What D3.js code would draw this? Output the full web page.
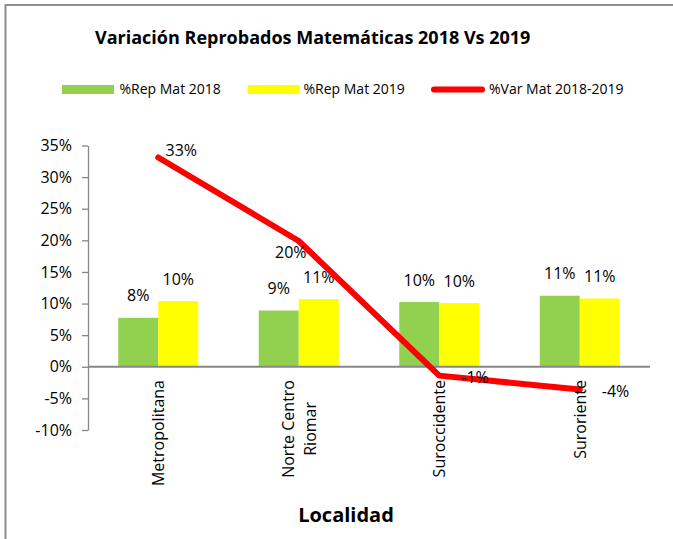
<!DOCTYPE html>
<html>
<head>
<meta charset="utf-8">
<script src="https://cdn.jsdelivr.net/npm/d3@7"></script>
<style>
  html, body { margin: 0; padding: 0; background: #fff; }
  svg { display: block; font-family: "Open Sans", sans-serif; }
</style>
</head>
<body>
<svg id="chart" width="673" height="539"></svg>
<script>
// ---- data ----
const categories = ["Metropolitana", "Norte Centro\nRiomar", "Suroccidente", "Suroriente"];
const rep2018 = [0.0775, 0.089, 0.1024, 0.1124];
const rep2019 = [0.104, 0.107, 0.1008, 0.108];
const var1819 = [0.331, 0.199, -0.014, -0.036];
const seriesNames = ["%Rep Mat 2018", "%Rep Mat 2019", "%Var Mat 2018-2019"];
const yTicks = [-0.10, -0.05, 0, 0.05, 0.10, 0.15, 0.20, 0.25, 0.30, 0.35];
const titleText = "Variación Reprobados Matemáticas 2018 Vs 2019";
const xTitle = "Localidad";
// label placement keywords for the line labels
const varLabelPlacement = ["aboveRight", "belowLeft", "right", "right"];

// ---- styles ----
const colors = { g: "#92D050", y: "#FFFF00", r: "#FF0000", axis: "#878787", frame: "#8f8f8f" };
const pct = v => Math.round(v * 100) + "%";

const svg = d3.select("#chart");

// frame
svg.append("rect").attr("x", 5.5).attr("y", 5).attr("width", 800).attr("height", 800)
  .attr("fill", "#fff").attr("stroke", colors.frame).attr("stroke-width", 2);

// scales
const x = d3.scaleBand().domain(categories).range([88, 650]).padding(0);
const y = d3.scaleLinear().domain([-0.10, 0.35]).range([430, 145.5]);
const inner = d3.scaleBand().domain([0, 1]).range([-40, 40]).padding(0);

// title
svg.append("text").attr("x", 95).attr("y", 44.3)
  .attr("font-size", 18).attr("font-weight", "bold").attr("fill", "#000")
  .text(titleText);

// legend
const leg = svg.append("g").attr("font-size", 14).attr("fill", "#000");
const legItems = [
  { sx: 62, tx: 119.5, type: "rect", color: colors.g },
  { sx: 247.5, tx: 303.5, type: "rect", color: colors.y },
  { sx: 431, tx: 489, type: "line", color: colors.r }
];
legItems.forEach((it, i) => {
  if (it.type === "rect") {
    leg.append("rect").attr("x", it.sx).attr("y", 85).attr("width", 52).attr("height", 9).attr("fill", it.color);
  } else {
    leg.append("line").attr("x1", it.sx + 3).attr("x2", it.sx + 51).attr("y1", 89.5).attr("y2", 89.5)
      .attr("stroke", it.color).attr("stroke-width", 6).attr("stroke-linecap", "round");
  }
  leg.append("text").attr("x", it.tx).attr("y", 94).text(seriesNames[i]);
});

// y axis
const yAxis = d3.axisLeft(y).tickValues(yTicks).tickFormat(pct).tickSize(6).tickSizeOuter(0).tickPadding(10);
const gy = svg.append("g").attr("transform", "translate(88,0)").call(yAxis);
gy.select(".domain").attr("stroke", colors.axis).attr("stroke-width", 1.3);
gy.selectAll(".tick line").attr("stroke", colors.axis).attr("stroke-width", 1.3);
gy.selectAll(".tick text").attr("font-size", 16).attr("fill", "#000")
  .attr("font-family", "'Open Sans', sans-serif");

// bars
const barData = [];
categories.forEach((c, i) => {
  barData.push({ c, s: 0, v: rep2018[i], color: colors.g });
  barData.push({ c, s: 1, v: rep2019[i], color: colors.y });
});
const bx = d => x(d.c) + x.bandwidth() / 2 + inner(d.s);
svg.append("g").selectAll("rect").data(barData).join("rect")
  .attr("x", bx).attr("width", inner.bandwidth())
  .attr("y", d => y(Math.max(0, d.v))).attr("height", d => Math.abs(y(d.v) - y(0)))
  .attr("fill", d => d.color);

// x axis line at zero
svg.append("line").attr("x1", 88).attr("x2", 650).attr("y1", y(0)).attr("y2", y(0))
  .attr("stroke", colors.axis).attr("stroke-width", 2);

// bar labels
svg.append("g").attr("font-size", 16).attr("fill", "#000").attr("text-anchor", "middle")
  .selectAll("text").data(barData).join("text")
  .attr("x", d => bx(d) + inner.bandwidth() / 2)
  .attr("y", d => y(d.v) - 16.5)
  .text(d => pct(d.v));

// line
const cx = c => x(c) + x.bandwidth() / 2;
const lineGen = d3.line().x((d, i) => cx(categories[i])).y(d => y(d));
svg.append("path").datum(var1819).attr("d", lineGen)
  .attr("fill", "none").attr("stroke", colors.r).attr("stroke-width", 6)
  .attr("stroke-linecap", "round").attr("stroke-linejoin", "round");

// line labels
const placeOffsets = {
  aboveRight: { dx: 23, dy: -2, anchor: "middle" },
  belowLeft: { dx: -8, dy: 17, anchor: "middle" },
  right: { dx: 22, dy: 7, anchor: "start" }
};
svg.append("g").attr("font-size", 16).attr("fill", "#000")
  .selectAll("text").data(var1819).join("text")
  .attr("x", (d, i) => cx(categories[i]) + placeOffsets[varLabelPlacement[i]].dx)
  .attr("y", (d, i) => y(d) + placeOffsets[varLabelPlacement[i]].dy)
  .attr("text-anchor", (d, i) => placeOffsets[varLabelPlacement[i]].anchor)
  .text(d => pct(d));

// category labels (rotated)
const catG = svg.append("g").attr("font-size", 16).attr("fill", "#000");
categories.forEach(c => {
  const lines = c.split("\n");
  const g = catG.append("g").attr("transform", `translate(${cx(c)},380) rotate(-90)`);
  const texts = lines.map((ln, k) => g.append("text")
    .attr("text-anchor", "middle").attr("dominant-baseline", "central")
    .attr("y", (k - (lines.length - 1) / 2) * 22.5).text(ln));
  const maxLen = d3.max(texts, t => t.node().getComputedTextLength());
  texts.forEach(t => t.attr("x", -maxLen / 2));
});

// x title
svg.append("text").attr("x", 346).attr("y", 522).attr("text-anchor", "middle")
  .attr("font-size", 20).attr("font-weight", "bold").attr("fill", "#000").text(xTitle);
</script>
</body>
</html>
